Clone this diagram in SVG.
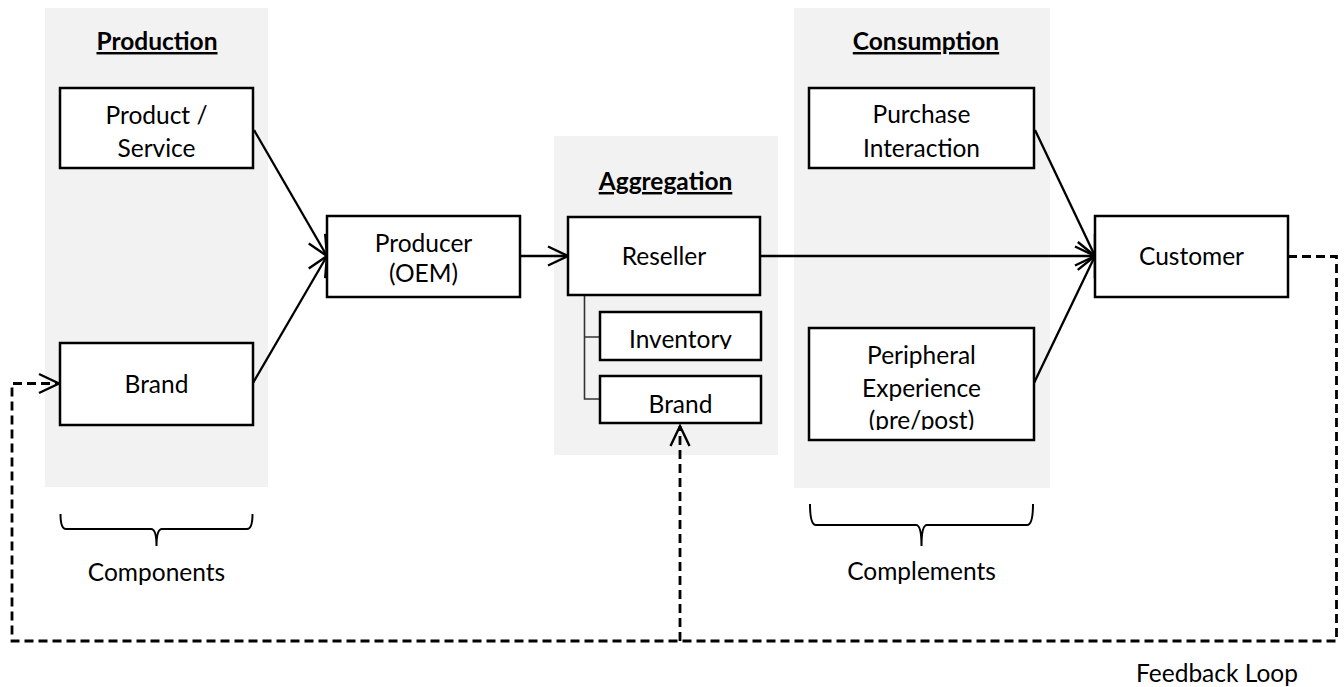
<svg xmlns="http://www.w3.org/2000/svg" width="1344" height="687" viewBox="0 0 1344 687">
  <style>
    .panel { fill: #f2f2f2; }
    .box { fill: #ffffff; stroke: #000000; stroke-width: 2.5; }
    .lbl { font-family: Lato, "Open Sans", sans-serif; font-size: 24.5px; fill: #000000; text-anchor: middle; }
    .ttl { font-family: Lato, "Open Sans", sans-serif; font-size: 24.5px; font-weight: bold; fill: #000000; text-anchor: middle; text-decoration: underline; }
    .edge { fill: none; stroke: #000000; stroke-width: 2.3; }
    .loop { fill: none; stroke: #000000; stroke-width: 2.8; stroke-dasharray: 9 5; }
    .tree { fill: none; stroke: #333333; stroke-width: 1.6; }
    .brace { fill: none; stroke: #000000; stroke-width: 2; }
  </style>
  <defs>
    <marker id="open-arrow" markerUnits="userSpaceOnUse" markerWidth="26" markerHeight="26" viewBox="-23 -13 26 26" refX="0" refY="0" orient="auto">
      <path d="M -20 -9.5 L 0 0 L -20 9.5" fill="none" stroke="#000000" stroke-width="2.4"/>
    </marker>
    <clipPath id="clip-oem"><rect x="327" y="216" width="193" height="70"/></clipPath>
    <clipPath id="clip-inventory"><rect x="600" y="312" width="161" height="37"/></clipPath>
    <clipPath id="clip-prepost"><rect x="809" y="328" width="225" height="102"/></clipPath>
  </defs>

  <!-- stage panels -->
  <g id="panel-production">
    <rect class="panel" x="45" y="8" width="223" height="479"/>
    <text class="ttl" x="157" y="50">Production</text>
  </g>
  <g id="panel-aggregation">
    <rect class="panel" x="554" y="136" width="224" height="319"/>
    <text class="ttl" x="665.5" y="190">Aggregation</text>
  </g>
  <g id="panel-consumption">
    <rect class="panel" x="794" y="8" width="256" height="480"/>
    <text class="ttl" x="926" y="50">Consumption</text>
  </g>

  <!-- connectors -->
  <g id="connectors">
    <line class="edge" x1="254" y1="130" x2="327" y2="256" marker-end="url(#open-arrow)"/>
    <line class="edge" x1="253" y1="383" x2="327" y2="256" marker-end="url(#open-arrow)"/>
    <line class="edge" x1="520" y1="256" x2="568" y2="256" marker-end="url(#open-arrow)"/>
    <line class="edge" x1="760" y1="256" x2="1095" y2="256" marker-end="url(#open-arrow)"/>
    <line class="edge" x1="1035" y1="130" x2="1095" y2="256" marker-end="url(#open-arrow)"/>
    <line class="edge" x1="1034" y1="383" x2="1095" y2="256" marker-end="url(#open-arrow)"/>
    <!-- reseller sub-items -->
    <path class="tree" d="M 584.5 295 V 399 H 600 M 584.5 337 H 600"/>
    <!-- feedback loop -->
    <path class="loop" d="M 1288 256.5 H 1336.5 V 641 H 12 V 383.5 H 59" marker-end="url(#open-arrow)"/>
    <path class="loop" d="M 680 641 V 426" marker-end="url(#open-arrow)"/>
  </g>

  <!-- nodes -->
  <g id="node-product-service">
    <rect class="box" x="60" y="88" width="193" height="80"/>
    <text class="lbl" x="156.5" y="124">Product /</text>
    <text class="lbl" x="156.5" y="157">Service</text>
  </g>
  <g id="node-brand">
    <rect class="box" x="60" y="343" width="193" height="82"/>
    <text class="lbl" x="156.5" y="393">Brand</text>
  </g>
  <g id="node-producer">
    <rect class="box" x="327" y="216" width="193" height="81"/>
    <text class="lbl" x="423.5" y="252">Producer</text>
    <text class="lbl" x="423.5" y="282" clip-path="url(#clip-oem)">(OEM)</text>
  </g>
  <g id="node-reseller">
    <rect class="box" x="568" y="217" width="192" height="78"/>
    <text class="lbl" x="664" y="265">Reseller</text>
  </g>
  <g id="node-inventory">
    <rect class="box" x="600" y="312" width="161" height="48"/>
    <text class="lbl" x="680.5" y="348" clip-path="url(#clip-inventory)">Inventory</text>
  </g>
  <g id="node-reseller-brand">
    <rect class="box" x="600" y="376" width="161" height="47"/>
    <text class="lbl" x="680.5" y="413">Brand</text>
  </g>
  <g id="node-purchase-interaction">
    <rect class="box" x="809" y="88" width="225" height="80"/>
    <text class="lbl" x="921.5" y="123">Purchase</text>
    <text class="lbl" x="921.5" y="157">Interaction</text>
  </g>
  <g id="node-peripheral-experience">
    <rect class="box" x="809" y="328" width="225" height="112"/>
    <text class="lbl" x="921.5" y="364">Peripheral</text>
    <text class="lbl" x="921.5" y="397">Experience</text>
    <text class="lbl" x="921.5" y="429" clip-path="url(#clip-prepost)">(pre/post)</text>
  </g>
  <g id="node-customer">
    <rect class="box" x="1095" y="216" width="193" height="81"/>
    <text class="lbl" x="1191.5" y="265">Customer</text>
  </g>

  <!-- group braces and captions -->
  <g id="brace-components">
    <path class="brace" d="M 60.5 514 Q 60.5 529 66 529 H 151 Q 156.5 529 156.5 546 Q 156.5 529 162 529 H 247 Q 252.5 529 252.5 514"/>
    <text class="lbl" x="156.5" y="581">Components</text>
  </g>
  <g id="brace-complements">
    <path class="brace" d="M 810 504 Q 810 525 816 525 H 916 Q 921.5 525 921.5 546 Q 921.5 525 927 525 H 1027 Q 1033 525 1033 504"/>
    <text class="lbl" x="921.5" y="580">Complements</text>
  </g>
  <g id="label-feedback">
    <text class="lbl" x="1136" y="682" style="text-anchor: start">Feedback Loop</text>
  </g>
</svg>
